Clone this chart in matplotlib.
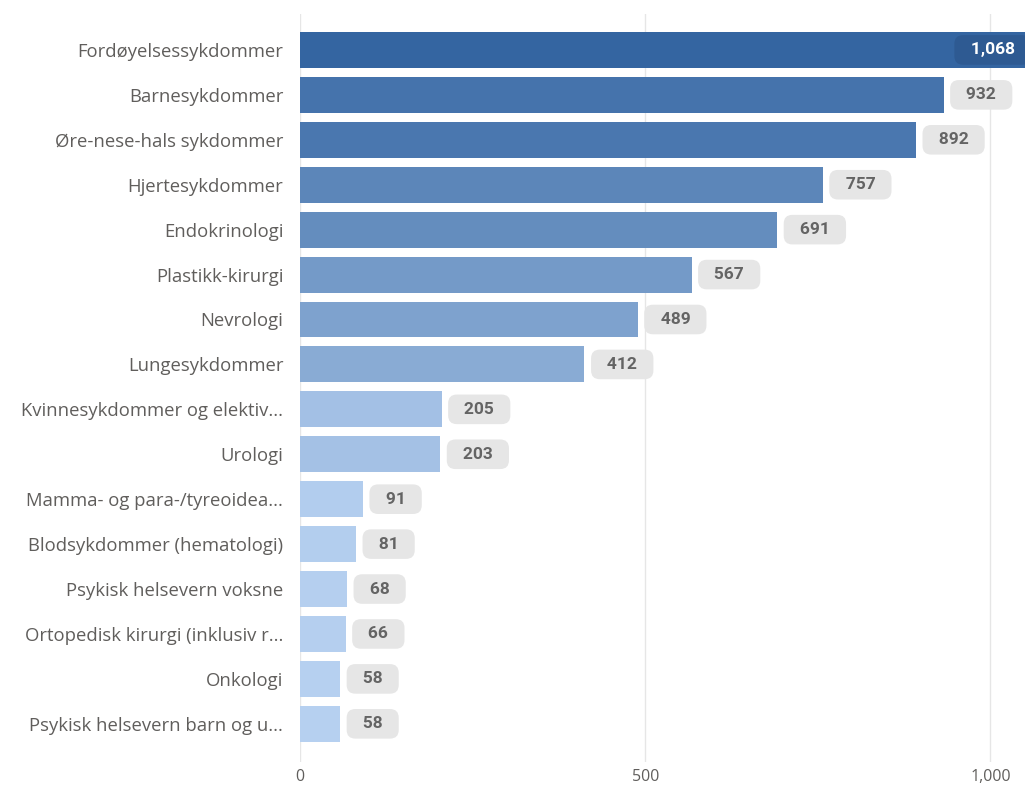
import matplotlib.pyplot as plt
import matplotlib.colors as mcolors
import numpy as np

# === DATA ===
categories = [
    "Fordøyelsessykdommer",
    "Barnesykdommer",
    "Øre-nese-hals sykdommer",
    "Hjertesykdommer",
    "Endokrinologi",
    "Plastikk-kirurgi",
    "Nevrologi",
    "Lungesykdommer",
    "Kvinnesykdommer og elektiv...",
    "Urologi",
    "Mamma- og para-/tyreoidea...",
    "Blodsykdommer (hematologi)",
    "Psykisk helsevern voksne",
    "Ortopedisk kirurgi (inklusiv r...",
    "Onkologi",
    "Psykisk helsevern barn og u...",
]
values = [1068, 932, 892, 757, 691, 567, 489, 412, 205, 203, 91, 81, 68, 66, 58, 58]
x_ticks = [0, 500, 1000]
x_tick_labels = ["0", "500", "1,000"]

# === STYLE ===
LABEL_FONT = "Open Sans"
VALUE_FONT = "Roboto"
cmap = mcolors.LinearSegmentedColormap.from_list("blues", ["#b6d0f0", "#3465a1"])
norm = mcolors.Normalize(vmin=min(values), vmax=max(values))

fig = plt.figure(figsize=(10.25, 7.89), dpi=100)
ax = fig.add_axes([300 / 1025, 27 / 789, 1 - 300 / 1025, 748 / 789])

y = np.arange(len(values))
ax.barh(y, values, height=0.8, color=[cmap(norm(v)) for v in values], zorder=2)

ax.set_xlim(0, 1050)
ax.set_ylim(len(values) - 1 + 0.85, -0.8)

ax.set_yticks(y)
ax.set_yticklabels(categories, fontsize=13.3, color="#605e5c", family=LABEL_FONT)
ax.set_xticks(x_ticks)
ax.set_xticklabels(x_tick_labels, fontsize=11.5, color="#605e5c", family=LABEL_FONT)
ax.tick_params(axis="y", length=0, pad=12)
ax.tick_params(axis="x", length=0, pad=5)

ax.grid(axis="x", color="#e6e6e6", linewidth=1, zorder=0)
for s in ax.spines.values():
    s.set_visible(False)

# === VALUE LABELS ===
box_style = "round,pad=0.42,rounding_size=0.5"
for i, v in enumerate(values):
    txt = "\u2002" + f"{v:,}" + "\u2002"
    if i == 0:
        ax.annotate(txt, xy=(v, i), xytext=(-10, 0),
                    textcoords="offset points", ha="right", va="center",
                    fontsize=12.5, fontweight="bold", color="white", family=VALUE_FONT,
                    bbox=dict(boxstyle=box_style, fc="#2e5a92", ec="none"),
                    zorder=4, annotation_clip=False)
    else:
        ax.annotate(txt, xy=(v, i), xytext=(10, 0),
                    textcoords="offset points", ha="left", va="center",
                    fontsize=12.5, fontweight="bold", color="#646464", family=VALUE_FONT,
                    bbox=dict(boxstyle=box_style, fc="#e6e6e6", ec="none"),
                    zorder=4)

fig.savefig("out.png", dpi=100)
